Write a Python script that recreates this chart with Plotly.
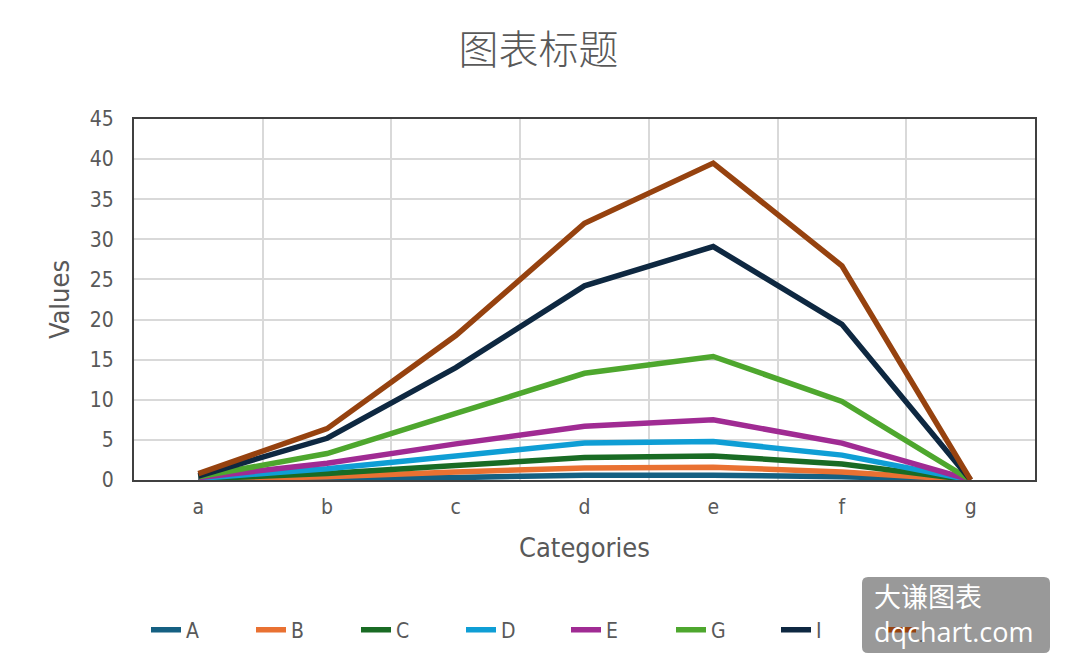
import plotly.graph_objects as go

# categories and series values
categories = ["a", "b", "c", "d", "e", "f", "g"]
series_names = ["A", "B", "C", "D", "E", "G", "I", "J"]
A = [0.05, 0.1, 0.3, 0.6, 0.6, 0.4, 0]
B = [0.1, 0.4, 1.0, 1.5, 1.6, 1.0, 0]
C = [0.15, 0.8, 1.8, 2.8, 3.0, 2.0, 0]
D = [0.2, 1.4, 3.0, 4.6, 4.8, 3.1, 0]
E = [0.3, 2.1, 4.5, 6.7, 7.5, 4.6, 0]
G = [0.4, 3.3, 8.3, 13.3, 15.4, 9.8, 0]
I = [0.5, 5.2, 14.0, 24.2, 29.1, 19.4, 0]
J = [0.8, 6.4, 18.0, 32.0, 39.5, 26.7, 0]
colors = ["#156082", "#E97132", "#196B24", "#0F9ED5", "#A02B93", "#4EA72E", "#0E2841", "#96420F"]

TICKFONT = "Liberation Sans Narrow, DejaVu Sans Condensed, sans-serif"
CJK = "Noto Sans CJK SC, sans-serif"

fig = go.Figure()
for name, vals, col in zip(series_names, [A, B, C, D, E, G, I, J], colors):
    fig.add_trace(go.Scatter(x=categories, y=vals, name=name, mode="lines",
                             line=dict(color=col, width=5.5)))

# page body adds 8px offset; plot area in screen pixels: x 134..1035, y 119..480
OFF = 8
L, R, T, Bt = 134, 1035, 119, 480
W, H = 1069 - OFF, 672 - OFF
def px(x):
    return (x - L) / (R - L)
def py(y):
    return (Bt - y) / (Bt - T)

fig.update_layout(
    width=W, height=H,
    margin=dict(l=L - OFF, r=1069 - R, t=T - OFF, b=672 - Bt),
    paper_bgcolor="white", plot_bgcolor="white",
    title=dict(text="图表标题", x=0.5, xanchor="center", y=1 - (50 - OFF) / H, yanchor="middle",
               font=dict(family=CJK, size=40, color="#595959", weight=300)),
    xaxis=dict(type="category", tickson="boundaries", range=[-0.5, 6.5],
               showgrid=True, gridcolor="#d9d9d9", gridwidth=2,
               showline=True, linecolor="#404040", linewidth=2, mirror=True,
               ticks="", ticklabelstandoff=7,
               tickfont=dict(family=TICKFONT, size=21, color="#595959"),
               title=dict(text="Categories", standoff=20,
                          font=dict(family=TICKFONT, size=27, color="#595959"))),
    yaxis=dict(range=[0, 45], dtick=5, showgrid=True, gridcolor="#d9d9d9", gridwidth=2,
               showline=True, linecolor="#404040", linewidth=2, mirror=True,
               zeroline=False, ticks="", ticklabelstandoff=14,
               tickfont=dict(family=TICKFONT, size=21, color="#595959"),
               title=dict(text="Values", standoff=12,
                          font=dict(family=TICKFONT, size=27, color="#595959"))),
    legend=dict(orientation="h", x=px(146), xanchor="left", y=py(630), yanchor="middle",
                font=dict(family=TICKFONT, size=21, color="#595959"),
                bgcolor="rgba(0,0,0,0)",
                entrywidth=60, entrywidthmode="pixels", tracegroupgap=0),
    showlegend=True,
)

# watermark box with rounded corners (paper coords)
x0, x1, y0, y1 = px(862), px(1050), py(653), py(577)
rx, ry = 6 / (R - L), 6 / (Bt - T)
path = (f"M {x0 + rx} {y0} L {x1 - rx} {y0} Q {x1} {y0} {x1} {y0 + ry} "
        f"L {x1} {y1 - ry} Q {x1} {y1} {x1 - rx} {y1} L {x0 + rx} {y1} "
        f"Q {x0} {y1} {x0} {y1 - ry} L {x0} {y0 + ry} Q {x0} {y0} {x0 + rx} {y0} Z")
fig.add_shape(type="path", path=path, xref="paper", yref="paper",
              fillcolor="rgba(128,128,128,0.8)", line=dict(width=0), layer="above")
fig.add_annotation(text="大谦图表<br>dqchart.com", xref="paper", yref="paper",
                   x=px(872), y=py(614), xanchor="left", yanchor="middle", align="left",
                   showarrow=False,
                   font=dict(family="Open Sans, Noto Sans CJK SC, sans-serif", size=27, color="white"))

fig.write_html("out.html")
